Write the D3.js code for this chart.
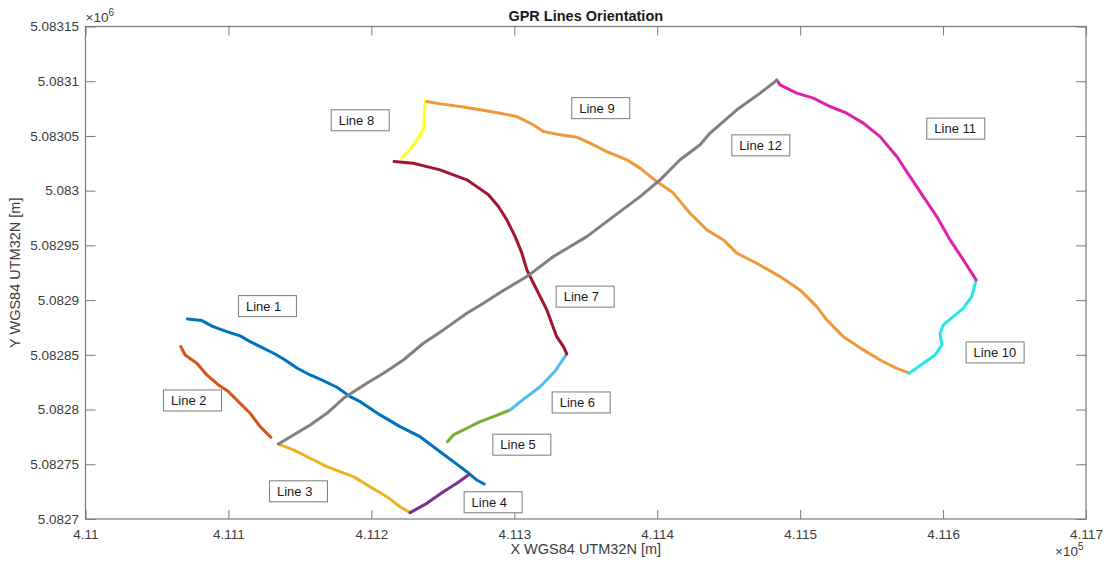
<!DOCTYPE html>
<html>
<head>
<meta charset="utf-8">
<script src="https://cdn.jsdelivr.net/npm/d3@7/dist/d3.min.js"></script>
<style>
  html, body { margin: 0; padding: 0; background: #fff; }
  svg { display: block; font-family: "Liberation Sans", Arial, Helvetica, sans-serif; }
</style>
</head>
<body>
<svg id="chart" width="1108" height="565"></svg>
<script>
// Survey line tracks, UTM zone 32N (easting / northing in metres)
const line1 = [[411071.3,5082882.8],[411081.4,5082881.3],[411089.3,5082875.8],[411098.9,5082871.2],[411108.2,5082867.3],[411115.2,5082862.1],[411122.2,5082857.5],[411131.3,5082851.7],[411139.7,5082845.3],[411147.9,5082838.0],[411157.2,5082831.6],[411166.3,5082826.4],[411175.9,5082820.4],[411185.2,5082811.8],[411192.2,5082807.2],[411206.1,5082795.1],[411220.1,5082784.4],[411234.1,5082775.2],[411248.1,5082761.5],[411257.4,5082752.4],[411266.8,5082743.2],[411273.8,5082735.6],[411278.9,5082732.0]];
const line2 = [[411066.7,5082857.5],[411069.7,5082849.9],[411077.9,5082842.3],[411084.9,5082831.6],[411093.0,5082822.5],[411100.0,5082816.4],[411108.2,5082805.7],[411115.2,5082796.6],[411122.2,5082784.4],[411129.7,5082774.7]];
const line3 = [[411135.0,5082768.5],[411145.5,5082763.1],[411157.2,5082755.5],[411168.9,5082747.8],[411178.2,5082743.2],[411187.5,5082738.7],[411199.1,5082729.5],[411210.8,5082720.4],[411220.1,5082711.2],[411227.1,5082705.8]];
const line4 = [[411227.1,5082705.8],[411238.8,5082714.3],[411250.4,5082724.9],[411259.8,5082732.6],[411267.9,5082740.2]];
const line5 = [[411253.2,5082770.6],[411257.4,5082776.8],[411266.8,5082782.9],[411276.1,5082788.9],[411285.4,5082793.5],[411297.1,5082799.6]];
const line6 = [[411297.1,5082799.6],[411307.6,5082810.6],[411318.1,5082820.9],[411328.6,5082835.3],[411336.7,5082850.8]];
const line7 = [[411336.7,5082850.8],[411334.4,5082857.5],[411329.7,5082866.6],[411326.2,5082878.9],[411322.8,5082891.0],[411318.1,5082903.2],[411313.4,5082915.4],[411308.8,5082927.6],[411305.3,5082942.9],[411300.6,5082958.0],[411294.8,5082973.3],[411288.9,5082985.5],[411281.9,5082996.2],[411273.8,5083003.7],[411266.8,5083009.9],[411257.4,5083014.4],[411248.1,5083019.0],[411238.8,5083022.0],[411229.4,5083025.1],[411215.9,5083026.6]];
const line8 = [[411221.3,5083029.7],[411227.1,5083037.3],[411231.8,5083046.4],[411236.4,5083055.6],[411237.1,5083069.3],[411237.6,5083081.4]];
const line9 = [[411238.8,5083081.4],[411248.1,5083079.3],[411262.1,5083076.9],[411276.1,5083073.9],[411290.1,5083070.8],[411301.8,5083067.7],[411313.4,5083060.1],[411320.4,5083054.0],[411332.1,5083051.0],[411343.7,5083048.9],[411353.0,5083043.4],[411364.7,5083035.7],[411378.7,5083028.2],[411388.0,5083020.6],[411399.7,5083008.3],[411411.1,5082998.0],[411423.0,5082979.4],[411434.7,5082964.2],[411446.3,5082955.0],[411455.7,5082942.9],[411469.6,5082933.7],[411485.9,5082921.5],[411499.9,5082909.3],[411511.6,5082894.0],[411518.6,5082881.9],[411530.2,5082866.6],[411544.2,5082854.5],[411555.9,5082845.3],[411567.6,5082837.7],[411576.4,5082833.2]];
const line10 = [[411576.4,5082833.2],[411586.2,5082842.3],[411594.4,5082849.9],[411599.1,5082859.0],[411597.9,5082869.7],[411600.2,5082877.3],[411607.2,5082884.9],[411614.2,5082892.6],[411620.0,5082903.2],[411623.1,5082918.5]];
const line11 = [[411623.1,5082918.5],[411614.2,5082936.7],[411604.9,5082955.0],[411595.6,5082976.3],[411586.2,5082994.6],[411576.9,5083012.9],[411567.6,5083031.2],[411555.9,5083049.4],[411544.2,5083061.7],[411532.6,5083070.8],[411520.9,5083076.9],[411509.2,5083084.6],[411497.6,5083089.1],[411485.9,5083096.7],[411483.6,5083101.3]];
const line12 = [[411135.0,5082768.5],[411145.5,5082776.8],[411157.2,5082785.9],[411168.9,5082796.6],[411180.5,5082810.3],[411196.8,5082824.0],[411208.5,5082833.2],[411222.4,5082845.3],[411236.4,5082860.6],[411250.4,5082872.8],[411266.8,5082888.0],[411278.4,5082897.2],[411290.1,5082907.0],[411308.8,5082921.5],[411327.4,5082939.8],[411350.7,5082958.0],[411369.3,5082976.3],[411388.0,5082994.6],[411402.0,5083009.9],[411416.0,5083028.2],[411430.0,5083041.9],[411437.0,5083052.6],[411455.7,5083073.9],[411472.0,5083089.1],[411483.6,5083100.8]];

const lineNames = ["Line 1","Line 2","Line 3","Line 4","Line 5","Line 6","Line 7","Line 8","Line 9","Line 10","Line 11","Line 12"];
const lineTracks = [line1,line2,line3,line4,line5,line6,line7,line8,line9,line10,line11,line12];
const lineColors = ["#0072BD","#D95319","#EDB120","#7E2F8E","#77AC30","#4DBEEE","#A2142F","#FFFF22","#EE9A3A","#22E8E8","#DD22AA","#808080"];

// Anchor (left edge, vertical middle) of each name tag, in map coordinates
const tagAnchors = [[411107.0,5082894.5],[411054.6,5082808.3],[411128.7,5082725.3],[411264.9,5082715.3],[411285.0,5082767.9],[411326.5,5082806.5],[411329.3,5082903.2],[411171.9,5083064.3],[411340.2,5083075.4],[411616.1,5082852.2],[411588.6,5083056.7],[411452.2,5083041.4]];

const xTicks = [411000,411100,411200,411300,411400,411500,411600,411700];
const yTicks = [5082700,5082750,5082800,5082850,5082900,5082950,5083000,5083050,5083100,5083150];
const xTickLabels = ["4.11","4.111","4.112","4.113","4.114","4.115","4.116","4.117"];
const yTickLabels = ["5.0827","5.08275","5.0828","5.08285","5.0829","5.08295","5.083","5.08305","5.0831","5.08315"];

const svg = d3.select("#chart");
const plotL = 85.5, plotR = 1086, plotT = 26.5, plotB = 519;
const axisColor = "#7a7a7a", labelColor = "#3c3c3c";

const x = d3.scaleLinear().domain([411000, 411700]).range([plotL, plotR]);
const y = d3.scaleLinear().domain([5082700, 5083150]).range([plotB, plotT]);

// axes: inward ticks on all four sides (boxed)
function styleAxis(g) {
  g.select(".domain").remove();
  g.selectAll(".tick line").attr("stroke", axisColor).attr("stroke-width", 1);
  g.selectAll(".tick text").attr("fill", labelColor).style("font-size", "13.5px")
    .style("font-family", "'Liberation Sans', Arial, sans-serif");
}
svg.append("g").attr("transform", `translate(0,${plotB})`)
  .call(d3.axisBottom(x).tickValues(xTicks).tickSize(-9).tickPadding(10)
    .tickFormat((d, i) => xTickLabels[i]))
  .call(styleAxis);
svg.append("g").attr("transform", `translate(0,${plotT})`)
  .call(d3.axisTop(x).tickValues(xTicks).tickSize(-9).tickFormat(""))
  .call(styleAxis);
svg.append("g").attr("transform", `translate(${plotL},0)`)
  .call(d3.axisLeft(y).tickValues(yTicks).tickSize(-10).tickPadding(6.5)
    .tickFormat((d, i) => yTickLabels[i]))
  .call(styleAxis);
svg.append("g").attr("transform", `translate(${plotR},0)`)
  .call(d3.axisRight(y).tickValues(yTicks).tickSize(-10).tickFormat(""))
  .call(styleAxis);

svg.append("rect").attr("x", plotL).attr("y", plotT)
  .attr("width", plotR - plotL).attr("height", plotB - plotT)
  .attr("fill", "none").attr("stroke", axisColor).attr("stroke-width", 1.2);

// exponent markers
const e6 = svg.append("text").attr("x", plotL).attr("y", 22).attr("fill", labelColor).style("font-size", "13.5px");
e6.append("tspan").text("\u00d710");
e6.append("tspan").attr("dy", -6).style("font-size", "10px").text("6");
const e5 = svg.append("text").attr("x", plotR - 31).attr("y", 556).attr("fill", labelColor).style("font-size", "13.5px");
e5.append("tspan").text("\u00d710");
e5.append("tspan").attr("dy", -6).style("font-size", "10px").text("5");

// survey lines
const path = d3.line().x(d => x(d[0])).y(d => y(d[1]));
svg.append("g")
  .selectAll("path").data(lineTracks).join("path")
  .attr("d", path).attr("fill", "none")
  .attr("stroke", (d, i) => lineColors[i])
  .attr("stroke-width", 3).attr("stroke-linejoin", "round").attr("stroke-linecap", "round");

// name tags
const tags = svg.append("g").selectAll("g").data(lineNames).join("g")
  .attr("transform", (d, i) => `translate(${x(tagAnchors[i][0])},${y(tagAnchors[i][1])})`);
tags.append("rect").attr("x", 0).attr("y", -10.5).attr("width", 58).attr("height", 21)
  .attr("fill", "#fff").attr("stroke", "#7a7a7a").attr("stroke-width", 1);
tags.append("text").attr("x", 7.5).attr("y", 0).attr("dy", "0.35em")
  .attr("fill", "#1a1a1a").style("font-size", "13px").text(d => d);

// titles
svg.append("text").attr("x", (plotL + plotR) / 2).attr("y", 21).attr("text-anchor", "middle")
  .attr("fill", "#1a1a1a").style("font-size", "14.5px").style("font-weight", "bold")
  .text("GPR Lines Orientation");
svg.append("text").attr("x", (plotL + plotR) / 2).attr("y", 554).attr("text-anchor", "middle")
  .attr("fill", labelColor).style("font-size", "14.5px").text("X WGS84 UTM32N [m]");
svg.append("text").attr("transform", `translate(20,${(plotT + plotB) / 2}) rotate(-90)`)
  .attr("text-anchor", "middle").attr("fill", labelColor).style("font-size", "14.5px")
  .text("Y WGS84 UTM32N [m]");
</script>
</body>
</html>
